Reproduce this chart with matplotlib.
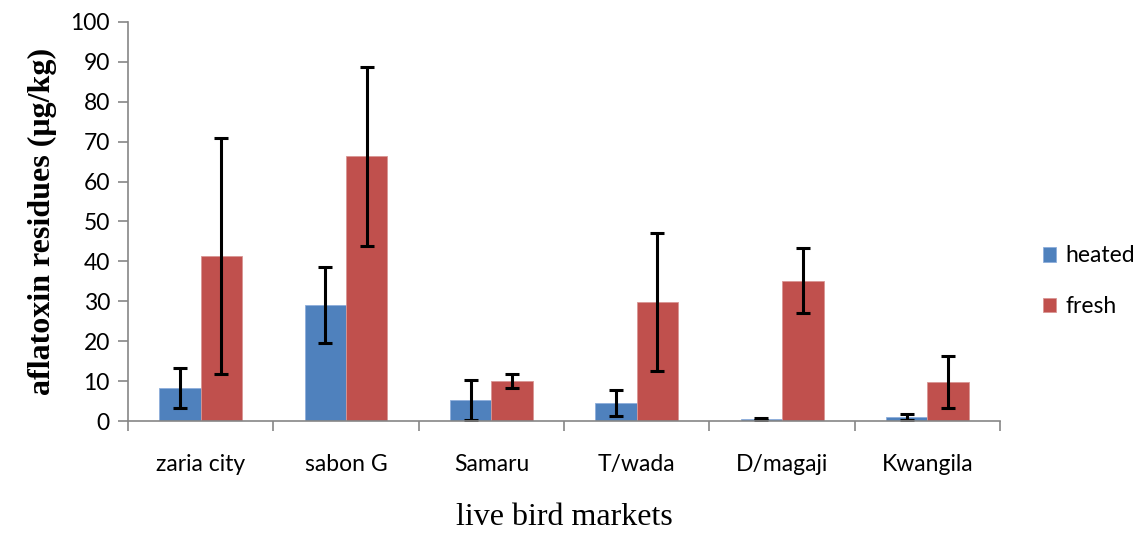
import numpy as np
import matplotlib
matplotlib.use('Agg')
import matplotlib.pyplot as plt

markets = ['zaria city', 'sabon G', 'Samaru', 'T/wada', 'D/magaji', 'Kwangila']
heated = [8.2, 29.1, 5.2, 4.5, 0.5, 1.0]
heated_err = [5.0, 9.6, 5.0, 3.3, 0.3, 0.8]
fresh = [41.4, 66.3, 10.0, 29.8, 35.2, 9.8]
fresh_err = [29.6, 22.4, 1.8, 17.2, 8.2, 6.5]

fig = plt.figure(figsize=(11.43, 5.33), dpi=100)
ax = fig.add_axes([0.112, 0.210, 0.763, 0.749])

x = np.arange(len(markets))
w = 0.285
ekw = dict(ecolor='black', elinewidth=2.2, capsize=5, capthick=2.2)
ax.bar(x - w / 2, heated, w, color='#4f81bd', edgecolor='#8eaedb', linewidth=0.6,
       yerr=heated_err, error_kw=ekw, label='heated')
ax.bar(x + w / 2, fresh, w, color='#c0504d', edgecolor='#d99694', linewidth=0.6,
       yerr=fresh_err, error_kw=ekw, label='fresh')

ax.set_xlim(-0.5, len(markets) - 0.5)
ax.set_ylim(0, 100)
ax.set_yticks(np.arange(0, 101, 10))
ax.set_xticks(x)
ax.set_xticklabels(markets)
ax.set_xticks(np.arange(-0.5, len(markets), 1), minor=True)
ax.tick_params(axis='x', which='major', length=0, pad=24)
ax.tick_params(axis='x', which='minor', length=7, color='#868686', width=1.2)
ax.tick_params(axis='y', length=7, color='#868686', width=1.2, pad=6)
for lab in ax.get_xticklabels() + ax.get_yticklabels():
    lab.set_fontfamily('Lato')
    lab.set_fontsize(16.5)
for s in ['top', 'right']:
    ax.spines[s].set_visible(False)
for s in ['left', 'bottom']:
    ax.spines[s].set_color('#868686')
    ax.spines[s].set_linewidth(1.2)

ax.set_ylabel('aflatoxin residues (μg/kg)', fontfamily='Liberation Serif',
              fontweight='bold', fontsize=23, labelpad=10)
ax.set_xlabel('live bird markets', fontfamily='Liberation Serif', fontsize=23, labelpad=20)

ax.legend(loc='center left', bbox_to_anchor=(1.025, 0.35), frameon=False,
          prop={'family': 'Lato', 'size': 16.5}, handlelength=0.6, handleheight=0.6,
          labelspacing=1.3, handletextpad=0.4)

fig.savefig('out.png', dpi=100)
